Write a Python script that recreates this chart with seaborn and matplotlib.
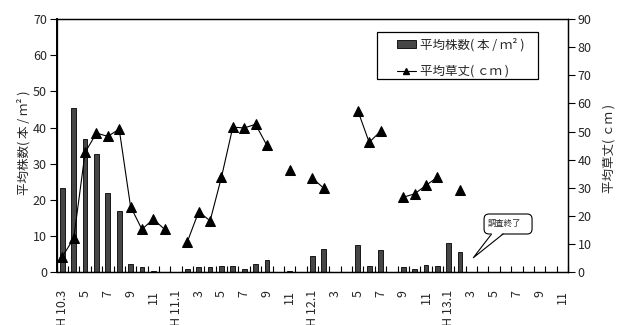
import numpy as np
import pandas as pd
import seaborn as sns
import matplotlib.pyplot as plt
from matplotlib.lines import Line2D
from matplotlib.patches import Patch, Rectangle, FancyBboxPatch, Polygon
from matplotlib.transforms import IdentityTransform

# Survey months: Heisei 10.3 through Heisei 13.11
months = ([f"H10.{m}" for m in range(3, 13)]
          + [f"H11.{m}" for m in range(1, 13)]
          + [f"H12.{m}" for m in range(1, 13)]
          + [f"H13.{m}" for m in range(1, 12)])

# Average plant count (plants / m2), None = not surveyed
plant_counts = [23.2, 45.3, 36.8, 32.7, 22.0, 17.0, 2.2, 1.5, 0.3, 0.2,
                None, 0.85, 1.4, 1.5, 1.75, 1.7, 0.85, 2.4, 3.4, None, 0.3, None,
                4.6, 6.6, None, None, 7.5, 1.7, 6.3, None, 1.4, 1.0, 2.0, 1.75,
                8.2, 5.6, None, None, None, None, None, None, None, None, None]

# Average grass height (cm), None = not surveyed
grass_heights = [5.6, 12.1, 42.6, 49.5, 48.3, 50.9, 23.4, 15.3, 18.9, 15.3,
                 None, 10.9, 21.6, 18.3, 33.8, 51.6, 51.3, 52.6, 45.1, None, 36.2, None,
                 33.5, 29.9, None, None, 57.5, 46.2, 50.1, None, 26.7, 27.9, 30.9, 33.8,
                 None, 29.1, None, None, None, None, None, None, None, None, None]

tick_labels = ["H 10.3", "5", "7", "9", "11",
               "H 11.1", "3", "5", "7", "9", "11",
               "H 12.1", "3", "5", "7", "9", "11",
               "H 13.1", "3", "5", "7", "9", "11"]

count_label = "平均株数( 本 / ｍ² )"
height_label = "平均草丈( ｃｍ )"
note_text = "調査終了"

sns.set_theme(style="white")
plt.rcParams["font.family"] = ["Liberation Sans Narrow", "Noto Sans CJK JP", "DejaVu Sans"]
cjk = ["Noto Sans CJK JP", "DejaVu Sans"]

W, H = 624, 325
fig = plt.figure(figsize=(W / 100, H / 100), dpi=100)
fig.patch.set_facecolor("white")
ax = fig.add_axes([56.7 / W, 1 - 272.4 / H, (568 - 56.7) / W, (272.4 - 19) / H])

df = pd.DataFrame({"month": months, "pos": np.arange(len(months)),
                   "count": pd.array(plant_counts, dtype="Float64").astype(float),
                   "height": pd.array(grass_heights, dtype="Float64").astype(float)})

bar_color = "#464646"
sns.barplot(data=df.dropna(subset=["count"]), x="month", y="count", order=months,
            color=bar_color, saturation=1, width=0.42, edgecolor="black",
            linewidth=0.6, ax=ax)

# height series: split into contiguous runs so gaps stay open
valid = df["height"].notna()
df["seg"] = (valid != valid.shift()).cumsum()
dl = df[valid]

ax2 = ax.twinx()
sns.lineplot(data=dl, x="pos", y="height", units="seg", estimator=None,
             color="black", lw=0.8, marker="^", markersize=6.5,
             markeredgecolor="black", legend=False, ax=ax2)

ax.set_xlim(-0.5, len(months) - 0.5)
ax2.set_xlim(-0.5, len(months) - 0.5)
ax.set_ylim(0, 70)
ax2.set_ylim(0, 90)
ax.set_yticks(range(0, 71, 10))
ax2.set_yticks(range(0, 91, 10))

ax.set_xticks(np.arange(0, len(months), 2))
ax.set_xticklabels(tick_labels, rotation=90, va="top", ha="center")
ax.set_xticks(np.arange(-0.5, len(months), 1), minor=True)
ax.tick_params(axis="x", which="major", length=0, pad=12.5, labelsize=9)
ax.tick_params(axis="x", which="minor", direction="in", length=4, width=0.8,
               bottom=True, color="black")
ax.tick_params(axis="y", direction="out", length=5, width=0.8, left=True,
               labelsize=9, pad=2, color="black")
ax2.tick_params(axis="y", direction="out", length=5, width=0.8, right=True,
                labelsize=9, pad=2, color="black")

ax.set_xlabel("")
ax.set_ylabel(count_label, fontsize=9, family=cjk)
ax2.set_ylabel(height_label, fontsize=9, family=cjk)
ax.yaxis.set_label_coords(-0.052, 0.51)
ax2.yaxis.set_label_coords(1.068, 0.49)

for a in (ax, ax2):
    for s in a.spines.values():
        s.set_color("black")
        s.set_linewidth(0.9)
ax.spines["left"].set_linewidth(1.4)
ax2.patch.set_visible(False)

# callout marking the end of the survey: tip anchored just after the last bar,
# box offset from the tip in pixels
tip_x, tip_y = ax.transData.transform((36.17, 4.06))
bx0, by0, bw, bh = tip_x + 10.7, tip_y + 23.7, 48, 20
ident = IdentityTransform()
fig.add_artist(FancyBboxPatch((bx0, by0), bw, bh,
                              boxstyle="round,pad=0,rounding_size=5",
                              fc="white", ec="black", lw=0.8,
                              transform=ident, zorder=5))
wedge_l, wedge_r = bx0 + 7.5, bx0 + 19
fig.add_artist(Polygon([(wedge_l, by0 + 1.2), (tip_x, tip_y), (wedge_r, by0 + 1.2)],
                       closed=True, fc="white", ec="none", transform=ident, zorder=6))
fig.add_artist(Line2D([wedge_l, tip_x, wedge_r], [by0, tip_y, by0],
                      color="black", lw=0.8, transform=ident, zorder=7))
fig.add_artist(plt.Text(bx0 + 3.5, by0 + bh / 2 + 1, note_text, ha="left",
                        va="center", fontsize=6, family=cjk,
                        transform=ident, zorder=8))

# legend with a square frame
handles = [Patch(fc=bar_color, ec="black", lw=0.6),
           Line2D([], [], color="black", lw=0.8, marker="^", markersize=5)]
leg = fig.legend(handles, [count_label, height_label], loc="upper left",
                 bbox_to_anchor=(397 / W, 1 - 38 / H), frameon=False,
                 borderpad=0, borderaxespad=0, handlelength=1.5,
                 handleheight=0.5, handletextpad=0.3, labelspacing=1.07,
                 prop={"family": cjk, "size": 9})
fig.add_artist(Rectangle((377 / W, 1 - 79 / H), (538 - 377) / W, (79 - 32) / H,
                         transform=fig.transFigure, fill=False, ec="black", lw=0.9))

fig.savefig("out.png", dpi=100)
